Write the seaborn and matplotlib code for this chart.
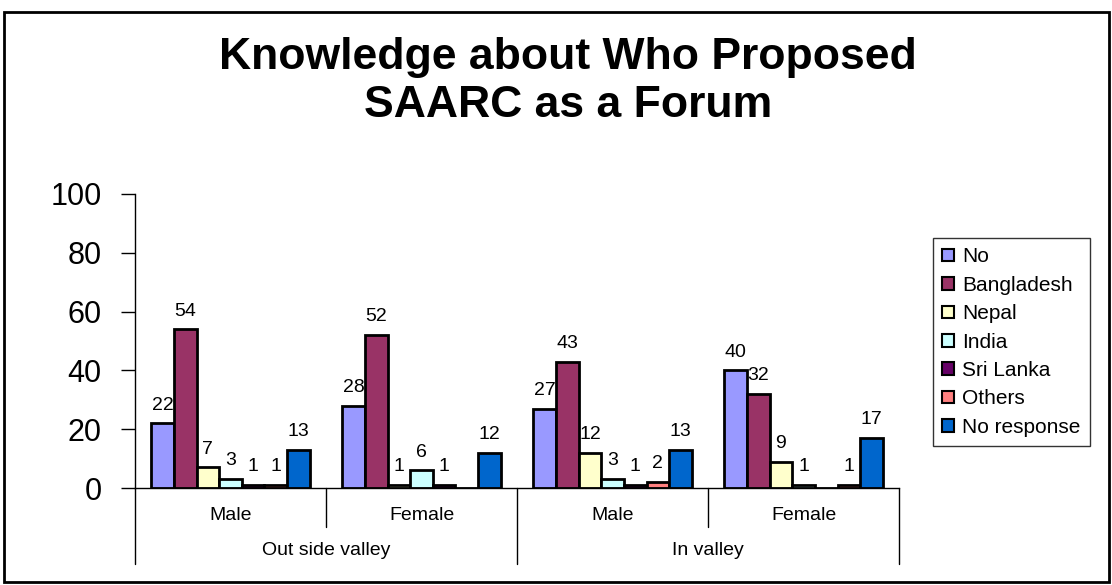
import matplotlib
matplotlib.use("Agg")
import matplotlib.pyplot as plt
import matplotlib.transforms as mtransforms
from matplotlib.patches import Patch, Rectangle
import pandas as pd
import seaborn as sns

# data
regions = ["Out side valley", "In valley"]
genders = ["Male", "Female"]
series = ["No", "Bangladesh", "Nepal", "India", "Sri Lanka", "Others", "No response"]
osv_male = [22, 54, 7, 3, 1, 1, 13]
osv_female = [28, 52, 1, 6, 1, 0, 12]
iv_male = [27, 43, 12, 3, 1, 2, 13]
iv_female = [40, 32, 9, 1, 0, 1, 17]
colors = ["#9999FF", "#993366", "#FFFFCC", "#CCFFFF", "#660066", "#FF8080", "#0066CC"]

groups = [f"{r}|{g}" for r in regions for g in genders]
rows = []
for grp, vals in zip(groups, [osv_male, osv_female, iv_male, iv_female]):
    for s, v in zip(series, vals):
        rows.append({"group": grp, "series": s, "value": v})
df = pd.DataFrame(rows)

sns.set_style("white")
plt.rcParams["font.family"] = ["Liberation Sans", "DejaVu Sans"]
plt.rcParams["text.color"] = "black"
plt.rcParams["ytick.color"] = "black"
plt.rcParams["ytick.labelcolor"] = "black"

fig = plt.figure(figsize=(11.12, 5.85), dpi=100)
ax = fig.add_axes([0.1214, 0.1658, 0.6871, 0.5026])

palette = dict(zip(series, colors))
sns.barplot(data=df, x="group", y="value", hue="series", order=groups,
            hue_order=series, palette=palette, width=0.83, edgecolor="black",
            linewidth=2, saturation=1, legend=False, ax=ax)

for cont in ax.containers:
    labels = [f"{v:.0f}" if v > 0 else "" for v in cont.datavalues]
    ax.bar_label(cont, labels=labels, padding=7, fontsize=14, color="black")

ax.set_ylim(0, 100)
ax.set_yticks(range(0, 101, 20))
ax.tick_params(axis="y", labelsize=22, length=10, width=1, direction="out", left=True,
               pad=14, colors="black")
ax.set_xlim(-0.5, 3.5)
ax.set_xticks([])
ax.set_xlabel("")
ax.set_ylabel("")
for sp in ["top", "right"]:
    ax.spines[sp].set_visible(False)
for sp in ["left", "bottom"]:
    ax.spines[sp].set_linewidth(1)
    ax.spines[sp].set_color("black")

# two-level category axis
trans = mtransforms.blended_transform_factory(ax.transData, ax.transAxes)
for x in [-0.5, 1.5, 3.5]:
    ax.plot([x, x], [0, -0.259], transform=trans, color="black", lw=1, clip_on=False)
for x in [0.5, 2.5]:
    ax.plot([x, x], [0, -0.133], transform=trans, color="black", lw=1, clip_on=False)
for i, grp in enumerate(groups):
    ax.text(i, -0.092, grp.split("|")[1], transform=trans, ha="center", va="center", fontsize=14)
for i, r in enumerate(regions):
    ax.text(2 * i + 0.5, -0.211, r, transform=trans, ha="center", va="center", fontsize=14)

handles = [Patch(facecolor=c, edgecolor="black", linewidth=1.5) for c in colors]
leg = fig.legend(handles, series, loc="upper left", bbox_to_anchor=(0.839, 0.593),
                 borderaxespad=0, fontsize=15, frameon=True, fancybox=False,
                 edgecolor="black", handlelength=0.55, handleheight=0.55, handletextpad=0.4,
                 labelspacing=0.45, borderpad=0.45)
leg.get_frame().set_linewidth(1)

fig.text(0.511, 0.86, "Knowledge about Who Proposed\nSAARC as a Forum",
         ha="center", va="center", fontsize=32, fontweight="bold", linespacing=1.22)

fig.patches.append(Rectangle((0.0036, 0.005), 0.9935, 0.974, transform=fig.transFigure,
                             fill=False, edgecolor="black", linewidth=2))

fig.savefig("out.png", dpi=100)
